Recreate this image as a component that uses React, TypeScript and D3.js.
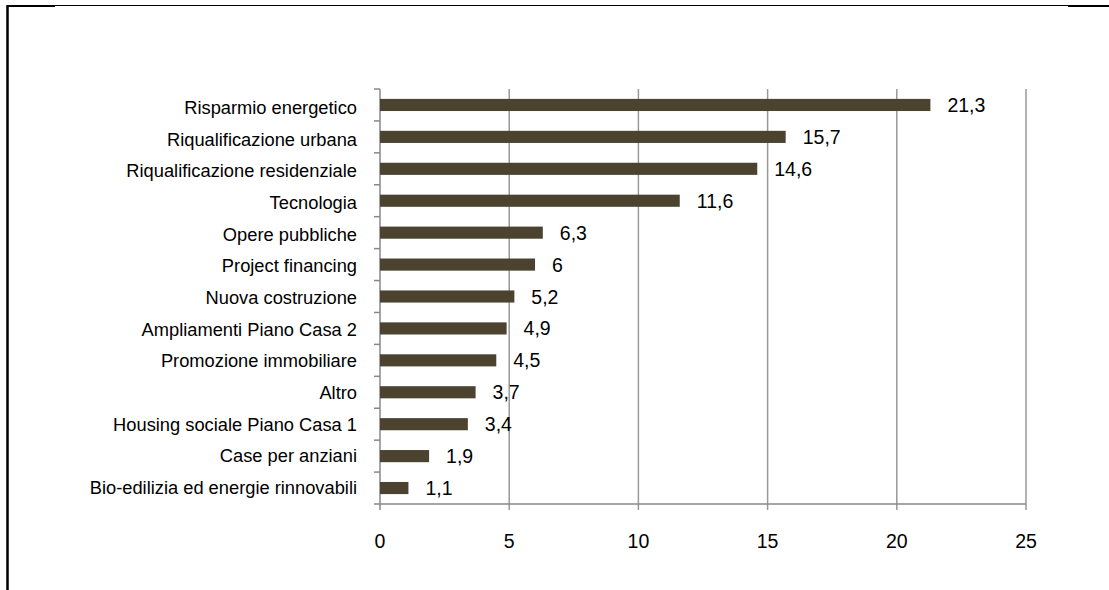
import React from "react";
import * as d3 from "d3";

const categories = [
  "Risparmio energetico",
  "Riqualificazione urbana",
  "Riqualificazione residenziale",
  "Tecnologia",
  "Opere pubbliche",
  "Project financing",
  "Nuova costruzione",
  "Ampliamenti Piano Casa 2",
  "Promozione immobiliare",
  "Altro",
  "Housing sociale Piano Casa 1",
  "Case per anziani",
  "Bio-edilizia ed energie rinnovabili",
];
const values = [21.3, 15.7, 14.6, 11.6, 6.3, 6, 5.2, 4.9, 4.5, 3.7, 3.4, 1.9, 1.1];
const xTicks = [0, 5, 10, 15, 20, 25];

const W = 1109;
const H = 590;
const FONT = "'Liberation Sans', Arial, sans-serif";

export default function App() {
  const x = d3.scaleLinear().domain([0, 25]).range([380, 1026]);
  const y = d3.scaleBand().domain(categories).range([89, 504]).paddingInner(0.62).paddingOuter(0.31);
  const band = d3.scaleBand().domain(categories).range([89, 504]);
  const labelY = d3.scalePoint().domain(categories).range([114, 494]);
  const fmt = (v: number) => String(v).replace(".", ",");
  return (
    <svg
      width={W}
      height={H}
      style={{ position: "absolute", left: 0, top: 0, background: "#fff" }}
      fontFamily={FONT}
    >
      {/* frame */}
      <line x1={7} x2={1109} y1={5.5} y2={5.5} stroke="#000" strokeWidth={1.2} />
      <line x1={7} x2={55} y1={6} y2={6} stroke="#000" strokeWidth={2.2} />
      <line x1={1068} x2={1109} y1={6} y2={6} stroke="#000" strokeWidth={2.2} />
      <line x1={7.5} x2={7.5} y1={5} y2={H} stroke="#000" strokeWidth={2.5} />
      {/* gridlines */}
      {xTicks.slice(1).map((t) => (
        <line key={t} x1={x(t)} x2={x(t)} y1={89} y2={510} stroke="#999" strokeWidth={1.5} />
      ))}
      {/* axes */}
      <line x1={x(0)} x2={x(25)} y1={504} y2={504} stroke="#888" strokeWidth={1.5} />
      <line x1={x(0)} x2={x(0)} y1={89} y2={510} stroke="#888" strokeWidth={1.5} />
      {categories.map((c) => (
        <line key={c} x1={374} x2={380} y1={band(c)!} y2={band(c)!} stroke="#888" strokeWidth={1.5} />
      ))}
      <line x1={374} x2={380} y1={504} y2={504} stroke="#888" strokeWidth={1.5} />
      {xTicks.map((t) => (
        <text key={t} x={x(t)} y={548} textAnchor="middle" fontSize={19.5} fill="#000">
          {t}
        </text>
      ))}
      {/* bars */}
      {categories.map((c, i) => {
        const cy = band(c)! + band.bandwidth() / 2;
        return (
          <g key={c}>
            <rect x={x(0)} y={y(c)!} width={x(values[i]) - x(0)} height={y.bandwidth()} fill="#4b4330" />
            <text x={357} y={labelY(c)!} textAnchor="end" fontSize={18.3} fill="#000">
              {c}
            </text>
            <text x={x(values[i]) + 17} y={cy + 7} fontSize={19.5} fill="#000">
              {fmt(values[i])}
            </text>
          </g>
        );
      })}
    </svg>
  );
}
